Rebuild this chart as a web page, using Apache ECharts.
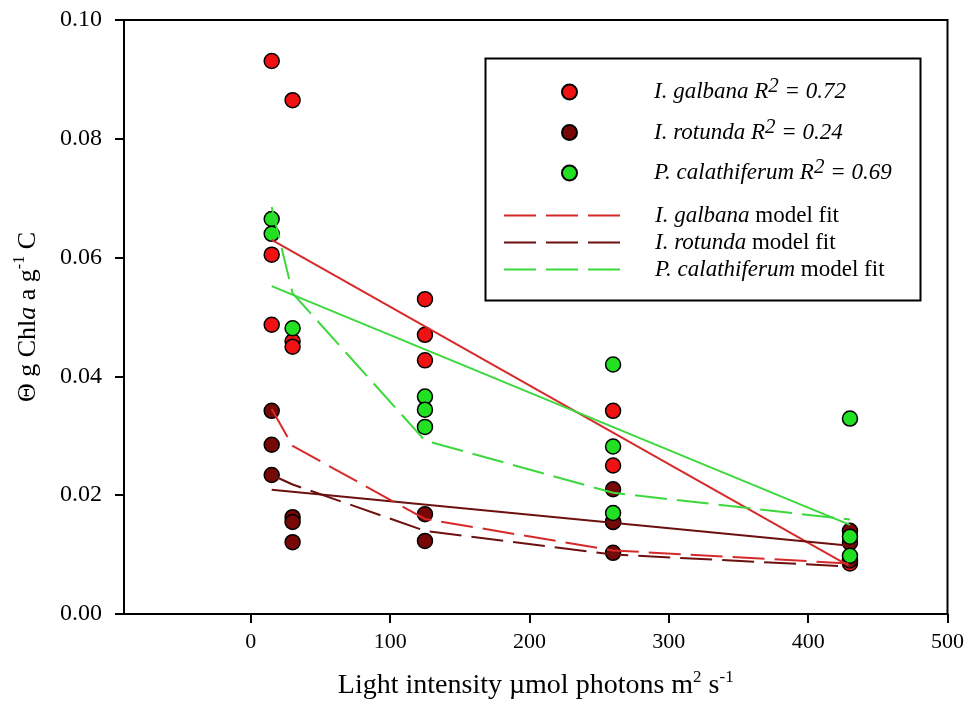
<!DOCTYPE html>
<html>
<head>
<meta charset="utf-8">
<script src="https://cdn.jsdelivr.net/npm/echarts@6/dist/echarts.min.js"></script>
<style>
  html, body { margin: 0; padding: 0; background: #fff; }
  #chart { width: 967px; height: 718px; }
</style>
</head>
<body>
<div id="chart"></div>
<script>
// measured points  [light, theta]
const galbanaPts = [[15, 0.0931], [15, 0.0605], [15, 0.0487], [30, 0.0865], [30, 0.0459], [30, 0.0450],
  [125, 0.0530], [125, 0.0470], [125, 0.0427], [260, 0.0342], [260, 0.0250], [260, 0.0155],
  [430, 0.0092], [430, 0.0088], [430, 0.0085]];
const rotundaPts = [[15, 0.0342], [15, 0.0285], [15, 0.0234], [30, 0.0163], [30, 0.0155], [30, 0.0121],
  [125, 0.0168], [125, 0.0123], [260, 0.0210], [260, 0.0155], [260, 0.0103],
  [430, 0.0140], [430, 0.0120], [430, 0.0090]];
const calathPts = [[15, 0.0665], [15, 0.0640], [30, 0.0481], [125, 0.0366], [125, 0.0344], [125, 0.0315],
  [260, 0.0420], [260, 0.0282], [260, 0.0170], [430, 0.0329], [430, 0.0130], [430, 0.0098]];

// linear fits
const linX = [15, 430];
const galbanaLin = [0.0630, 0.0080];
const rotundaLin = [0.0209, 0.0115];
const calathLin = [0.0552, 0.0150];

// model fits
const modelX = [15, 30, 125, 260, 430];
const galbanaModel = [0.0345, 0.0283, 0.0160, 0.0107, 0.0085];
const rotundaModel = [0.0234, 0.0218, 0.0140, 0.0100, 0.0080];
const calathModel = [0.0685, 0.0540, 0.0292, 0.0204, 0.0159];

const xTicks = [0, 100, 200, 300, 400, 500];

const RED = '#f01212', DARK = '#780808', GREEN = '#22e022';
const RED_L = '#d62a2a', DARK_L = '#6c1010', GREEN_L = '#3cd83c';
const SERIF = 'Liberation Serif';

const zip = (xs, ys) => xs.map((x, i) => [x, ys[i]]);

const chart = echarts.init(document.getElementById('chart'));

function scatter(name, pts, color) {
  return {
    name: name, type: 'scatter', data: pts, symbol: 'circle', symbolSize: 15, z: 2,
    itemStyle: { color: color, borderColor: '#000', borderWidth: 1.5, opacity: 1 }
  };
}
function line(name, data, color, dashed) {
  return {
    name: name, type: 'line', data: data, symbol: 'none', z: 3,
    lineStyle: { color: color, width: 2, type: dashed ? [32, 10] : 'solid' },
    itemStyle: { color: color }
  };
}

const supLabels = {
  'gal': '{it|I. galbana R}{sup|2}{it| = 0.72}',
  'rot': '{it|I. rotunda R}{sup|2}{it| = 0.24}',
  'cal': '{it|P. calathiferum R}{sup|2}{it| = 0.69}',
  'galFit': '{it|I. galbana}{n| model fit}',
  'rotFit': '{it|I. rotunda}{n| model fit}',
  'calFit': '{it|P. calathiferum}{n| model fit}'
};

const option = {
  animation: false,
  backgroundColor: '#fff',
  grid: { left: 124, right: 18, top: 20, bottom: 104, show: true, borderColor: '#000', borderWidth: 2 },
  xAxis: {
    type: 'value', min: -91, max: 500,
    name: '{t|Light intensity µmol photons m}{sup|2}{t| s}{sup|-1}',
    nameLocation: 'middle', nameGap: 55,
    nameTextStyle: {
      rich: {
        t: { fontFamily: SERIF, fontSize: 28, color: '#000', lineHeight: 34 },
        sup: { fontFamily: SERIF, fontSize: 17, color: '#000', lineHeight: 16, verticalAlign: 'top' }
      }
    },
    splitLine: { show: false },
    axisLine: { onZero: false, lineStyle: { color: '#000', width: 2 } },
    axisTick: { length: 9, customValues: xTicks, lineStyle: { color: '#000', width: 2 } },
    axisLabel: { customValues: xTicks, margin: 17, fontFamily: SERIF, fontSize: 22, color: '#000' }
  },
  yAxis: {
    type: 'value', min: 0, max: 0.1, interval: 0.02,
    name: '{t|Θ g Chl}{it|a}{t| a g}{sup|-1}{t| C}',
    nameLocation: 'middle', nameGap: 80, nameRotate: 90,
    nameTextStyle: {
      rich: {
        t: { fontFamily: SERIF, fontSize: 26, color: '#000', lineHeight: 32 },
        it: { fontFamily: SERIF, fontSize: 26, fontStyle: 'italic', color: '#000', lineHeight: 32 },
        sup: { fontFamily: SERIF, fontSize: 16, color: '#000', lineHeight: 15, verticalAlign: 'top' }
      }
    },
    splitLine: { show: false },
    axisLine: { onZero: false, lineStyle: { color: '#000', width: 2 } },
    axisTick: { length: 9, lineStyle: { color: '#000', width: 2 } },
    axisLabel: { margin: 22, fontFamily: SERIF, fontSize: 24, color: '#000',
      formatter: v => v.toFixed(2) }
  },
  legend: [
    {
      orient: 'vertical', left: 556, top: 71, itemWidth: 15, itemHeight: 15, itemGap: 13,
      data: ['gal', 'rot', 'cal'],
      formatter: n => supLabels[n],
      textStyle: {
        padding: [0, 0, 0, 72],
        rich: {
          it: { fontFamily: SERIF, fontSize: 23, fontStyle: 'italic', color: '#000', lineHeight: 32 },
          sup: { fontFamily: SERIF, fontSize: 21, fontStyle: 'italic', color: '#000', lineHeight: 14, verticalAlign: 'top' }
        }
      }
    },
    {
      orient: 'vertical', left: 498, top: 199, itemWidth: 116, itemHeight: 14, itemGap: 4,
      data: ['galFit', 'rotFit', 'calFit'],
      formatter: n => supLabels[n],
      itemStyle: { color: 'rgba(0,0,0,0)', borderWidth: 0 },
      textStyle: {
        padding: [0, 0, 0, 30],
        rich: {
          it: { fontFamily: SERIF, fontSize: 23, fontStyle: 'italic', color: '#000', lineHeight: 24 },
          n: { fontFamily: SERIF, fontSize: 23, color: '#000', lineHeight: 24 }
        }
      }
    }
  ],
  graphic: [{
    type: 'rect', left: 483, top: 56, z: 0,
    shape: { width: 435, height: 242 },
    style: { fill: 'none', stroke: '#000', lineWidth: 2 }
  }],
  series: [
    scatter('gal', galbanaPts, RED),
    scatter('rot', rotundaPts, DARK),
    scatter('cal', calathPts, GREEN),
    line('galLin', zip(linX, galbanaLin), RED_L, false),
    line('rotLin', zip(linX, rotundaLin), DARK_L, false),
    line('calLin', zip(linX, calathLin), GREEN_L, false),
    line('galFit', zip(modelX, galbanaModel), RED_L, true),
    line('rotFit', zip(modelX, rotundaModel), DARK_L, true),
    line('calFit', zip(modelX, calathModel), GREEN_L, true)
  ]
};

chart.setOption(option);
</script>
</body>
</html>
